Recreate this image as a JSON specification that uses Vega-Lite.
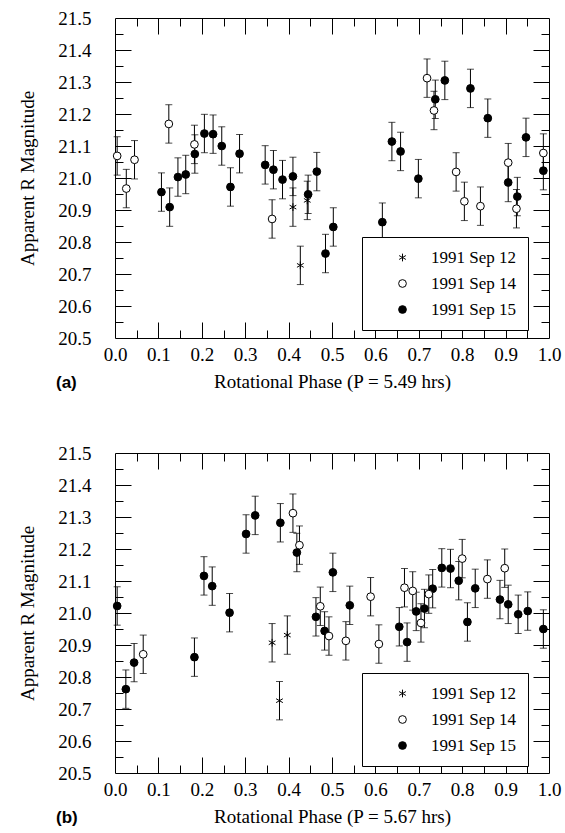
{
  "$schema": "https://vega.github.io/schema/vega-lite/v6.json",
  "padding": {"left": 18, "top": 8, "right": 5, "bottom": 5},
  "spacing": 51,
  "datasets": {
    "a": [
      {"phase": 0.005, "mag": 21.069, "err": 0.06, "date": "1991 Sep 14"},
      {"phase": 0.026, "mag": 20.967, "err": 0.06, "date": "1991 Sep 14"},
      {"phase": 0.045, "mag": 21.057, "err": 0.06, "date": "1991 Sep 14"},
      {"phase": 0.124, "mag": 21.169, "err": 0.06, "date": "1991 Sep 14"},
      {"phase": 0.183, "mag": 21.105, "err": 0.06, "date": "1991 Sep 14"},
      {"phase": 0.362, "mag": 20.872, "err": 0.06, "date": "1991 Sep 14"},
      {"phase": 0.719, "mag": 21.312, "err": 0.06, "date": "1991 Sep 14"},
      {"phase": 0.735, "mag": 21.211, "err": 0.06, "date": "1991 Sep 14"},
      {"phase": 0.786, "mag": 21.019, "err": 0.06, "date": "1991 Sep 14"},
      {"phase": 0.805, "mag": 20.927, "err": 0.06, "date": "1991 Sep 14"},
      {"phase": 0.842, "mag": 20.912, "err": 0.06, "date": "1991 Sep 14"},
      {"phase": 0.906, "mag": 21.048, "err": 0.06, "date": "1991 Sep 14"},
      {"phase": 0.925, "mag": 20.904, "err": 0.06, "date": "1991 Sep 14"},
      {"phase": 0.987, "mag": 21.078, "err": 0.06, "date": "1991 Sep 14"},
      {"phase": 0.41, "mag": 20.909, "err": 0.06, "date": "1991 Sep 12"},
      {"phase": 0.427, "mag": 20.727, "err": 0.06, "date": "1991 Sep 12"},
      {"phase": 0.443, "mag": 20.93, "err": 0.06, "date": "1991 Sep 12"},
      {"phase": 0.107, "mag": 20.956, "err": 0.06, "date": "1991 Sep 15"},
      {"phase": 0.126, "mag": 20.909, "err": 0.06, "date": "1991 Sep 15"},
      {"phase": 0.145, "mag": 21.003, "err": 0.06, "date": "1991 Sep 15"},
      {"phase": 0.163, "mag": 21.011, "err": 0.06, "date": "1991 Sep 15"},
      {"phase": 0.184, "mag": 21.075, "err": 0.06, "date": "1991 Sep 15"},
      {"phase": 0.206, "mag": 21.139, "err": 0.06, "date": "1991 Sep 15"},
      {"phase": 0.226, "mag": 21.137, "err": 0.06, "date": "1991 Sep 15"},
      {"phase": 0.246, "mag": 21.1, "err": 0.06, "date": "1991 Sep 15"},
      {"phase": 0.266, "mag": 20.972, "err": 0.06, "date": "1991 Sep 15"},
      {"phase": 0.287, "mag": 21.076, "err": 0.06, "date": "1991 Sep 15"},
      {"phase": 0.346, "mag": 21.041, "err": 0.06, "date": "1991 Sep 15"},
      {"phase": 0.365, "mag": 21.026, "err": 0.06, "date": "1991 Sep 15"},
      {"phase": 0.386, "mag": 20.995, "err": 0.06, "date": "1991 Sep 15"},
      {"phase": 0.41, "mag": 21.005, "err": 0.06, "date": "1991 Sep 15"},
      {"phase": 0.445, "mag": 20.949, "err": 0.06, "date": "1991 Sep 15"},
      {"phase": 0.465, "mag": 21.02, "err": 0.06, "date": "1991 Sep 15"},
      {"phase": 0.485, "mag": 20.764, "err": 0.06, "date": "1991 Sep 15"},
      {"phase": 0.503, "mag": 20.847, "err": 0.06, "date": "1991 Sep 15"},
      {"phase": 0.616, "mag": 20.862, "err": 0.06, "date": "1991 Sep 15"},
      {"phase": 0.638, "mag": 21.114, "err": 0.06, "date": "1991 Sep 15"},
      {"phase": 0.658, "mag": 21.083, "err": 0.06, "date": "1991 Sep 15"},
      {"phase": 0.699, "mag": 20.998, "err": 0.06, "date": "1991 Sep 15"},
      {"phase": 0.738, "mag": 21.246, "err": 0.06, "date": "1991 Sep 15"},
      {"phase": 0.76, "mag": 21.305, "err": 0.06, "date": "1991 Sep 15"},
      {"phase": 0.819, "mag": 21.28, "err": 0.06, "date": "1991 Sep 15"},
      {"phase": 0.859, "mag": 21.187, "err": 0.06, "date": "1991 Sep 15"},
      {"phase": 0.906, "mag": 20.986, "err": 0.06, "date": "1991 Sep 15"},
      {"phase": 0.927, "mag": 20.942, "err": 0.06, "date": "1991 Sep 15"},
      {"phase": 0.947, "mag": 21.127, "err": 0.06, "date": "1991 Sep 15"},
      {"phase": 0.987, "mag": 21.023, "err": 0.06, "date": "1991 Sep 15"}
    ],
    "b": [
      {"phase": 0.005, "mag": 21.022, "err": 0.06, "date": "1991 Sep 15"},
      {"phase": 0.025, "mag": 20.762, "err": 0.06, "date": "1991 Sep 15"},
      {"phase": 0.044, "mag": 20.845, "err": 0.06, "date": "1991 Sep 15"},
      {"phase": 0.183, "mag": 20.862, "err": 0.06, "date": "1991 Sep 15"},
      {"phase": 0.205, "mag": 21.116, "err": 0.06, "date": "1991 Sep 15"},
      {"phase": 0.224, "mag": 21.084, "err": 0.06, "date": "1991 Sep 15"},
      {"phase": 0.264, "mag": 21.001, "err": 0.06, "date": "1991 Sep 15"},
      {"phase": 0.302, "mag": 21.247, "err": 0.06, "date": "1991 Sep 15"},
      {"phase": 0.323, "mag": 21.305, "err": 0.06, "date": "1991 Sep 15"},
      {"phase": 0.381, "mag": 21.282, "err": 0.06, "date": "1991 Sep 15"},
      {"phase": 0.419, "mag": 21.189, "err": 0.06, "date": "1991 Sep 15"},
      {"phase": 0.463, "mag": 20.988, "err": 0.06, "date": "1991 Sep 15"},
      {"phase": 0.483, "mag": 20.944, "err": 0.06, "date": "1991 Sep 15"},
      {"phase": 0.502, "mag": 21.127, "err": 0.06, "date": "1991 Sep 15"},
      {"phase": 0.541, "mag": 21.024, "err": 0.06, "date": "1991 Sep 15"},
      {"phase": 0.655, "mag": 20.957, "err": 0.06, "date": "1991 Sep 15"},
      {"phase": 0.673, "mag": 20.909, "err": 0.06, "date": "1991 Sep 15"},
      {"phase": 0.694, "mag": 21.005, "err": 0.06, "date": "1991 Sep 15"},
      {"phase": 0.713, "mag": 21.014, "err": 0.06, "date": "1991 Sep 15"},
      {"phase": 0.732, "mag": 21.076, "err": 0.06, "date": "1991 Sep 15"},
      {"phase": 0.753, "mag": 21.141, "err": 0.06, "date": "1991 Sep 15"},
      {"phase": 0.773, "mag": 21.139, "err": 0.06, "date": "1991 Sep 15"},
      {"phase": 0.792, "mag": 21.101, "err": 0.06, "date": "1991 Sep 15"},
      {"phase": 0.812, "mag": 20.972, "err": 0.06, "date": "1991 Sep 15"},
      {"phase": 0.83, "mag": 21.077, "err": 0.06, "date": "1991 Sep 15"},
      {"phase": 0.887, "mag": 21.042, "err": 0.06, "date": "1991 Sep 15"},
      {"phase": 0.906, "mag": 21.027, "err": 0.06, "date": "1991 Sep 15"},
      {"phase": 0.929, "mag": 20.996, "err": 0.06, "date": "1991 Sep 15"},
      {"phase": 0.951, "mag": 21.006, "err": 0.06, "date": "1991 Sep 15"},
      {"phase": 0.987, "mag": 20.95, "err": 0.06, "date": "1991 Sep 15"},
      {"phase": 0.065, "mag": 20.871, "err": 0.06, "date": "1991 Sep 14"},
      {"phase": 0.41, "mag": 21.312, "err": 0.06, "date": "1991 Sep 14"},
      {"phase": 0.425, "mag": 21.212, "err": 0.06, "date": "1991 Sep 14"},
      {"phase": 0.473, "mag": 21.021, "err": 0.06, "date": "1991 Sep 14"},
      {"phase": 0.493, "mag": 20.928, "err": 0.06, "date": "1991 Sep 14"},
      {"phase": 0.532, "mag": 20.913, "err": 0.06, "date": "1991 Sep 14"},
      {"phase": 0.589, "mag": 21.051, "err": 0.06, "date": "1991 Sep 14"},
      {"phase": 0.608, "mag": 20.903, "err": 0.06, "date": "1991 Sep 14"},
      {"phase": 0.667, "mag": 21.079, "err": 0.06, "date": "1991 Sep 14"},
      {"phase": 0.686, "mag": 21.069, "err": 0.06, "date": "1991 Sep 14"},
      {"phase": 0.705, "mag": 20.969, "err": 0.06, "date": "1991 Sep 14"},
      {"phase": 0.723, "mag": 21.059, "err": 0.06, "date": "1991 Sep 14"},
      {"phase": 0.8, "mag": 21.17, "err": 0.06, "date": "1991 Sep 14"},
      {"phase": 0.858, "mag": 21.106, "err": 0.06, "date": "1991 Sep 14"},
      {"phase": 0.898, "mag": 21.14, "err": 0.06, "date": "1991 Sep 14"},
      {"phase": 0.362, "mag": 20.907, "err": 0.06, "date": "1991 Sep 12"},
      {"phase": 0.379, "mag": 20.726, "err": 0.06, "date": "1991 Sep 12"},
      {"phase": 0.397, "mag": 20.931, "err": 0.06, "date": "1991 Sep 12"}
    ]
  },
  "vconcat": [
    {
      "data": {"name": "a"},
      "width": 434,
      "height": 320,
      "title": {"text": "(a)", "orient": "bottom", "anchor": "start", "frame": "group", "font": "Liberation Sans", "fontSize": 17, "fontWeight": "bold", "color": "black", "dx": -59, "offset": -16},
      "resolve": {"axis": {"x": "independent", "y": "independent"}},
      "layer": [
        {
          "mark": {"type": "errorbar", "color": "black", "thickness": 1, "ticks": {"size": 7, "color": "black", "thickness": 1}},
          "encoding": {
            "x": {"field": "phase", "type": "quantitative", "scale": {"domain": [0, 1], "nice": false},
              "axis": {"orient": "bottom", "values": [0, 0.1, 0.2, 0.3, 0.4, 0.5, 0.6, 0.7, 0.8, 0.9, 1], "format": ".1f", "labelPadding": 7, "labelFlush": false, "labelOverlap": false, "ticks": false, "title": "Rotational Phase (P = 5.49 hrs)", "titlePadding": 8}},
            "y": {"field": "mag", "type": "quantitative", "scale": {"domain": [20.5, 21.5], "nice": false, "zero": false},
              "axis": {"orient": "left", "values": [20.5, 20.6, 20.7, 20.8, 20.9, 21, 21.1, 21.2, 21.3, 21.4, 21.5], "format": ".1f", "labelPadding": 24, "labelFlush": false, "labelOverlap": false, "ticks": false, "title": "Apparent R Magnitude", "titlePadding": 20}},
            "yError": {"field": "err"}
          }
        },
        {
          "mark": {"type": "point", "opacity": 0},
          "encoding": {
            "x": {"field": "phase", "type": "quantitative", "scale": {"domain": [0, 1], "nice": false},
              "axis": {"orient": "bottom", "values": [0.1, 0.2, 0.3, 0.4, 0.5, 0.6, 0.7, 0.8, 0.9], "labels": false, "tickSize": -16, "title": null}},
            "y": {"field": "mag", "type": "quantitative", "scale": {"domain": [20.5, 21.5], "nice": false, "zero": false},
              "axis": {"orient": "left", "values": [20.6, 20.7, 20.8, 20.9, 21, 21.1, 21.2, 21.3, 21.4], "labels": false, "tickSize": -16, "title": null}}
          }
        },
        {
          "mark": {"type": "point", "opacity": 0},
          "encoding": {
            "x": {"field": "phase", "type": "quantitative", "scale": {"domain": [0, 1], "nice": false},
              "axis": {"orient": "bottom", "values": [0.05, 0.15, 0.25, 0.35, 0.45, 0.55, 0.65, 0.75, 0.85, 0.95], "labels": false, "tickSize": -8, "title": null}},
            "y": {"field": "mag", "type": "quantitative", "scale": {"domain": [20.5, 21.5], "nice": false, "zero": false},
              "axis": {"orient": "left", "values": [20.55, 20.65, 20.75, 20.85, 20.95, 21.05, 21.15, 21.25, 21.35, 21.45], "labels": false, "tickSize": -8, "title": null}}
          }
        },
        {
          "mark": {"type": "point", "opacity": 0},
          "encoding": {
            "x": {"field": "phase", "type": "quantitative", "scale": {"domain": [0, 1], "nice": false},
              "axis": {"orient": "top", "values": [0.05, 0.15, 0.25, 0.35, 0.45, 0.55, 0.65, 0.75, 0.85, 0.95], "labels": false, "tickSize": -8, "title": null}},
            "y": {"field": "mag", "type": "quantitative", "scale": {"domain": [20.5, 21.5], "nice": false, "zero": false},
              "axis": {"orient": "right", "values": [20.55, 20.65, 20.75, 20.85, 20.95, 21.05, 21.15, 21.25, 21.35, 21.45], "labels": false, "tickSize": -8, "title": null}}
          }
        },
        {
          "mark": {"type": "point", "filled": true, "size": 60, "strokeWidth": 1, "opacity": 1},
          "encoding": {
            "x": {"field": "phase", "type": "quantitative", "scale": {"domain": [0, 1], "nice": false},
              "axis": {"orient": "top", "values": [0.1, 0.2, 0.3, 0.4, 0.5, 0.6, 0.7, 0.8, 0.9], "labels": false, "tickSize": -16, "title": null}},
            "y": {"field": "mag", "type": "quantitative", "scale": {"domain": [20.5, 21.5], "nice": false, "zero": false},
              "axis": {"orient": "right", "values": [20.6, 20.7, 20.8, 20.9, 21, 21.1, 21.2, 21.3, 21.4], "labels": false, "tickSize": -16, "title": null}},
            "shape": {"field": "date", "type": "nominal",
              "scale": {"domain": ["1991 Sep 12", "1991 Sep 14", "1991 Sep 15"], "range": ["M0,-1L0,1M-0.87,-0.5L0.87,0.5M-0.87,0.5L0.87,-0.5", "circle", "circle"]},
              "legend": {"orient": "none", "legendX": 247, "legendY": 219, "title": null, "labelFont": "Liberation Serif", "labelFontSize": 17, "labelColor": "black", "strokeColor": "black", "fillColor": "white", "padding": 12, "symbolOffset": 20, "labelOffset": 20, "rowPadding": 8, "labelLimit": 88, "symbolStrokeWidth": 1, "symbolSize": 60}},
            "fill": {"field": "date", "type": "nominal",
              "scale": {"domain": ["1991 Sep 12", "1991 Sep 14", "1991 Sep 15"], "range": ["black", "white", "black"]},
              "legend": {"orient": "none", "legendX": 247, "legendY": 219, "title": null, "labelFont": "Liberation Serif", "labelFontSize": 17, "labelColor": "black", "strokeColor": "black", "fillColor": "white", "padding": 12, "symbolOffset": 20, "labelOffset": 20, "rowPadding": 8, "labelLimit": 88, "symbolStrokeWidth": 1, "symbolSize": 60}},
            "stroke": {"field": "date", "type": "nominal",
              "scale": {"domain": ["1991 Sep 12", "1991 Sep 14", "1991 Sep 15"], "range": ["black", "black", "black"]},
              "legend": {"orient": "none", "legendX": 247, "legendY": 219, "title": null, "labelFont": "Liberation Serif", "labelFontSize": 17, "labelColor": "black", "strokeColor": "black", "fillColor": "white", "padding": 12, "symbolOffset": 20, "labelOffset": 20, "rowPadding": 8, "labelLimit": 88, "symbolStrokeWidth": 1, "symbolSize": 60}}
          }
        }
      ]
    },
    {
      "data": {"name": "b"},
      "width": 434,
      "height": 320,
      "title": {"text": "(b)", "orient": "bottom", "anchor": "start", "frame": "group", "font": "Liberation Sans", "fontSize": 17, "fontWeight": "bold", "color": "black", "dx": -59, "offset": -16},
      "resolve": {"axis": {"x": "independent", "y": "independent"}},
      "layer": [
        {
          "mark": {"type": "errorbar", "color": "black", "thickness": 1, "ticks": {"size": 7, "color": "black", "thickness": 1}},
          "encoding": {
            "x": {"field": "phase", "type": "quantitative", "scale": {"domain": [0, 1], "nice": false},
              "axis": {"orient": "bottom", "values": [0, 0.1, 0.2, 0.3, 0.4, 0.5, 0.6, 0.7, 0.8, 0.9, 1], "format": ".1f", "labelPadding": 7, "labelFlush": false, "labelOverlap": false, "ticks": false, "title": "Rotational Phase (P = 5.67 hrs)", "titlePadding": 8}},
            "y": {"field": "mag", "type": "quantitative", "scale": {"domain": [20.5, 21.5], "nice": false, "zero": false},
              "axis": {"orient": "left", "values": [20.5, 20.6, 20.7, 20.8, 20.9, 21, 21.1, 21.2, 21.3, 21.4, 21.5], "format": ".1f", "labelPadding": 24, "labelFlush": false, "labelOverlap": false, "ticks": false, "title": "Apparent R Magnitude", "titlePadding": 20}},
            "yError": {"field": "err"}
          }
        },
        {
          "mark": {"type": "point", "opacity": 0},
          "encoding": {
            "x": {"field": "phase", "type": "quantitative", "scale": {"domain": [0, 1], "nice": false},
              "axis": {"orient": "bottom", "values": [0.1, 0.2, 0.3, 0.4, 0.5, 0.6, 0.7, 0.8, 0.9], "labels": false, "tickSize": -16, "title": null}},
            "y": {"field": "mag", "type": "quantitative", "scale": {"domain": [20.5, 21.5], "nice": false, "zero": false},
              "axis": {"orient": "left", "values": [20.6, 20.7, 20.8, 20.9, 21, 21.1, 21.2, 21.3, 21.4], "labels": false, "tickSize": -16, "title": null}}
          }
        },
        {
          "mark": {"type": "point", "opacity": 0},
          "encoding": {
            "x": {"field": "phase", "type": "quantitative", "scale": {"domain": [0, 1], "nice": false},
              "axis": {"orient": "bottom", "values": [0.05, 0.15, 0.25, 0.35, 0.45, 0.55, 0.65, 0.75, 0.85, 0.95], "labels": false, "tickSize": -8, "title": null}},
            "y": {"field": "mag", "type": "quantitative", "scale": {"domain": [20.5, 21.5], "nice": false, "zero": false},
              "axis": {"orient": "left", "values": [20.55, 20.65, 20.75, 20.85, 20.95, 21.05, 21.15, 21.25, 21.35, 21.45], "labels": false, "tickSize": -8, "title": null}}
          }
        },
        {
          "mark": {"type": "point", "opacity": 0},
          "encoding": {
            "x": {"field": "phase", "type": "quantitative", "scale": {"domain": [0, 1], "nice": false},
              "axis": {"orient": "top", "values": [0.05, 0.15, 0.25, 0.35, 0.45, 0.55, 0.65, 0.75, 0.85, 0.95], "labels": false, "tickSize": -8, "title": null}},
            "y": {"field": "mag", "type": "quantitative", "scale": {"domain": [20.5, 21.5], "nice": false, "zero": false},
              "axis": {"orient": "right", "values": [20.55, 20.65, 20.75, 20.85, 20.95, 21.05, 21.15, 21.25, 21.35, 21.45], "labels": false, "tickSize": -8, "title": null}}
          }
        },
        {
          "mark": {"type": "point", "filled": true, "size": 60, "strokeWidth": 1, "opacity": 1},
          "encoding": {
            "x": {"field": "phase", "type": "quantitative", "scale": {"domain": [0, 1], "nice": false},
              "axis": {"orient": "top", "values": [0.1, 0.2, 0.3, 0.4, 0.5, 0.6, 0.7, 0.8, 0.9], "labels": false, "tickSize": -16, "title": null}},
            "y": {"field": "mag", "type": "quantitative", "scale": {"domain": [20.5, 21.5], "nice": false, "zero": false},
              "axis": {"orient": "right", "values": [20.6, 20.7, 20.8, 20.9, 21, 21.1, 21.2, 21.3, 21.4], "labels": false, "tickSize": -16, "title": null}},
            "shape": {"field": "date", "type": "nominal",
              "scale": {"domain": ["1991 Sep 12", "1991 Sep 14", "1991 Sep 15"], "range": ["M0,-1L0,1M-0.87,-0.5L0.87,0.5M-0.87,0.5L0.87,-0.5", "circle", "circle"]},
              "legend": {"orient": "none", "legendX": 247, "legendY": 220, "title": null, "labelFont": "Liberation Serif", "labelFontSize": 17, "labelColor": "black", "strokeColor": "black", "fillColor": "white", "padding": 12, "symbolOffset": 20, "labelOffset": 20, "rowPadding": 8, "labelLimit": 88, "symbolStrokeWidth": 1, "symbolSize": 60}},
            "fill": {"field": "date", "type": "nominal",
              "scale": {"domain": ["1991 Sep 12", "1991 Sep 14", "1991 Sep 15"], "range": ["black", "white", "black"]},
              "legend": {"orient": "none", "legendX": 247, "legendY": 220, "title": null, "labelFont": "Liberation Serif", "labelFontSize": 17, "labelColor": "black", "strokeColor": "black", "fillColor": "white", "padding": 12, "symbolOffset": 20, "labelOffset": 20, "rowPadding": 8, "labelLimit": 88, "symbolStrokeWidth": 1, "symbolSize": 60}},
            "stroke": {"field": "date", "type": "nominal",
              "scale": {"domain": ["1991 Sep 12", "1991 Sep 14", "1991 Sep 15"], "range": ["black", "black", "black"]},
              "legend": {"orient": "none", "legendX": 247, "legendY": 220, "title": null, "labelFont": "Liberation Serif", "labelFontSize": 17, "labelColor": "black", "strokeColor": "black", "fillColor": "white", "padding": 12, "symbolOffset": 20, "labelOffset": 20, "rowPadding": 8, "labelLimit": 88, "symbolStrokeWidth": 1, "symbolSize": 60}}
          }
        }
      ]
    }
  ],
  "resolve": {"scale": {"shape": "independent", "fill": "independent", "stroke": "independent"}, "legend": {"shape": "independent", "fill": "independent", "stroke": "independent"}},
  "config": {
    "view": {"stroke": "black", "strokeWidth": 1},
    "font": "Liberation Serif",
    "axis": {"domain": false, "grid": false, "labelFont": "Liberation Serif", "labelFontSize": 19, "labelColor": "black", "titleFont": "Liberation Serif", "titleFontSize": 19, "titleFontWeight": "normal", "titleColor": "black", "tickColor": "black", "tickWidth": 1}
  }
}
